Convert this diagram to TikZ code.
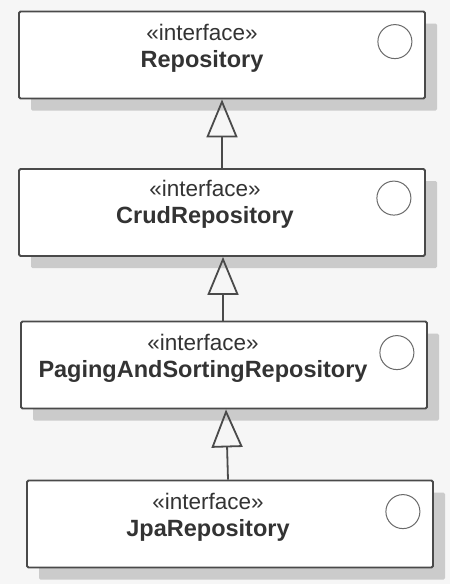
\documentclass[tikz,border=0pt]{standalone}
\usepackage{fontspec}
\setmainfont{Liberation Sans}
\usepackage{xcolor}
\usetikzlibrary{arrows.meta,shadows}
\definecolor{bgcol}{HTML}{F6F6F6}
\definecolor{boxcol}{HTML}{4A4A4A}
\definecolor{txtcol}{HTML}{333333}
\definecolor{shadecol}{HTML}{CBCBCB}
\definecolor{circcol}{HTML}{6A6A6A}
\newcommand{\ifnm}[1]{{\fontsize{23.5}{27}\selectfont\textbf{#1}}}

\begin{document}
\begin{tikzpicture}[x=1pt,y=1pt,
    ifbox/.style={draw=boxcol, line width=1.8pt, fill=white, rounded corners=1.5pt,
        minimum width=406pt, minimum height=87pt,
        drop shadow={shadow xshift=12pt, shadow yshift=-12pt, fill=shadecol, opacity=1}},
    ifname/.style={align=center, text=txtcol, inner sep=0pt, font=\fontsize{22.5}{27}\selectfont},
    ificon/.style={draw=circcol, line width=1pt, circle, minimum size=34pt, inner sep=0pt},
    gen/.style={draw=boxcol, line width=1.8pt, -{Triangle[open, length=38pt, width=31pt, line width=1.8pt]}}]
    		\fill[bgcol] (0,0) rectangle (450,-584);
    		\useasboundingbox (0,0) rectangle (450,-584);
    		
    		\node[ifbox] (repo) at (222,-55){};
    		\node[ifbox] (crud) at (222,-212.5){};
    		\node[ifbox] (paging) at (224,-365){};
    		\node[ifbox] (jpa) at (230,-524){};
    		
    		\node[ifname] (repotxt) at ([shift={(-20,7)}]repo.center){«interface»\\\ifnm{Repository}};
    		\node[ifname] (crudtxt) at ([shift={(-17,8)}]crud.center){«interface»\\\ifnm{CrudRepository}};
    		\node[ifname] (pagingtxt) at ([shift={(-21,7)}]paging.center){«interface»\\\ifnm{PagingAndSortingRepository}};
    		\node[ifname] (jpatxt) at ([shift={(-22,7)}]jpa.center){«interface»\\\ifnm{JpaRepository}};
    		
    		\node[ificon] (repoic) at ([shift={(-31,-31)}]repo.north east){};
    		\node[ificon] (crudic) at ([shift={(-32,-30)}]crud.north east){};
    		\node[ificon] (pagingic) at ([shift={(-31,-32)}]paging.north east){};
    		\node[ificon] (jpaic) at ([shift={(-31,-32)}]jpa.north east){};
    		
    		\draw[gen] (crud.north) -- (repo.south);
    		\draw[gen] ([xshift=-1pt]paging.north) -- ([xshift=1pt]crud.south);
    		\draw[gen] ([xshift=-2pt]jpa.north) -- ([xshift=2pt]paging.south);
    	\end{tikzpicture}
\end{document}
